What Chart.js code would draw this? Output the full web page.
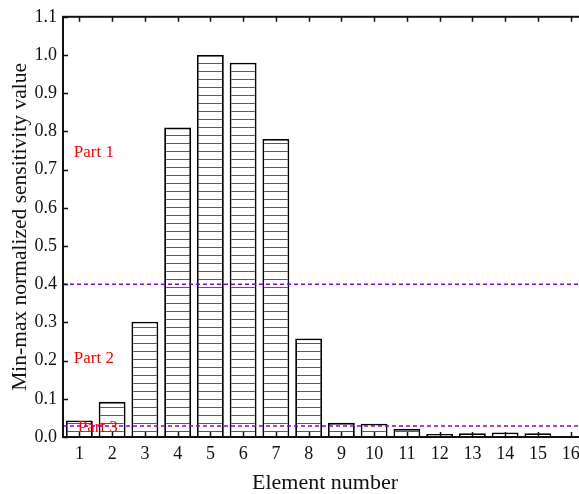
<!DOCTYPE html>
<html lang="en">
<head>
    <meta charset="UTF-8">
    <title>Element sensitivity</title>
    <style>
        html, body { margin: 0; padding: 0; background: #fff; overflow: hidden; }
        #wrap { position: absolute; left: 0; top: 0; width: 600px; height: 494px; }
    </style>
</head>
<body>
    <div id="wrap"><canvas id="chart" width="600" height="494"></canvas></div>
    <script src="https://cdn.jsdelivr.net/npm/chart.js"></script>
    <script>
    // data
    const elements = ['1', '2', '3', '4', '5', '6', '7', '8', '9', '10', '11', '12', '13', '14', '15', '16'];
    const sensitivity = [0.043, 0.092, 0.302, 0.81, 1.0, 0.98, 0.78, 0.258, 0.037, 0.035, 0.021, 0.008, 0.010, 0.012, 0.010, 0];
    const yTicks = [0, 0.1, 0.2, 0.3, 0.4, 0.5, 0.6, 0.7, 0.8, 0.9, 1.0, 1.1];
    const thresholds = [0.4, 0.029];
    const partNames = ['Part 1', 'Part 2', 'Part 3'];
    const partX = [-0.17, -0.17, -0.05];
    const partY = [0.745, 0.205, 0.025];

    const serif = '"Liberation Serif", "Times New Roman", serif';

    // horizontal hatch fill for the bars
    function hatch() {
        const c = document.createElement('canvas');
        c.width = 8; c.height = 8;
        const g = c.getContext('2d');
        g.fillStyle = '#fff';
        g.fillRect(0, 0, 8, 8);
        g.strokeStyle = '#5a5a5a';
        g.lineWidth = 1;
        g.beginPath();
        g.moveTo(0, 7.5); g.lineTo(8, 7.5);
        g.stroke();
        return g.createPattern(c, 'repeat');
    }

    // frame, inward ticks, dashed split lines and part labels
    const decor = {
        id: 'decor',
        afterDatasetsDraw(chart) {
            const ctx = chart.ctx;
            const a = chart.chartArea;
            const x = chart.scales.x, y = chart.scales.y;
            ctx.save();

            ctx.strokeStyle = '#8000ff';
            ctx.lineWidth = 1.5;
            ctx.setLineDash([4, 3]);
            thresholds.forEach(v => {
                const py = y.getPixelForValue(v);
                ctx.beginPath();
                ctx.moveTo(a.left, py); ctx.lineTo(a.right, py);
                ctx.stroke();
            });
            ctx.setLineDash([]);

            ctx.strokeStyle = '#111';
            ctx.lineWidth = 1.5;
            const t = 5;
            ctx.beginPath();
            yTicks.forEach(v => {
                const py = Math.round(y.getPixelForValue(v)) + 0.5;
                ctx.moveTo(a.left, py); ctx.lineTo(a.left + t, py);
                ctx.moveTo(a.right, py); ctx.lineTo(a.right - t, py);
            });
            elements.forEach((e, i) => {
                const px = Math.round(x.getPixelForValue(i)) + 0.5;
                ctx.moveTo(px, a.bottom); ctx.lineTo(px, a.bottom - t);
                ctx.moveTo(px, a.top); ctx.lineTo(px, a.top + t);
            });
            ctx.stroke();

            ctx.lineWidth = 2;
            ctx.strokeRect(a.left, a.top, a.right - a.left, a.bottom - a.top);

            ctx.fillStyle = '#ff0000';
            ctx.font = '17px ' + serif;
            ctx.textBaseline = 'middle';
            ctx.textAlign = 'left';
            partNames.forEach((p, i) => {
                ctx.fillText(p, x.getPixelForValue(partX[i]), y.getPixelForValue(partY[i]));
            });
            ctx.restore();
        }
    };

    new Chart(document.getElementById('chart'), {
        type: 'bar',
        data: {
            labels: elements,
            datasets: [{
                data: sensitivity,
                backgroundColor: hatch(),
                borderColor: '#000',
                borderWidth: 1.8,
                borderSkipped: 'bottom',
                categoryPercentage: 1,
                barPercentage: 0.82
            }]
        },
        options: {
            responsive: false,
            animation: false,
            layout: { padding: { top: 16, right: 13, left: 0, bottom: 0 } },
            plugins: { legend: { display: false }, tooltip: { enabled: false } },
            scales: {
                x: {
                    grid: { display: false, drawTicks: false },
                    border: { display: false },
                    ticks: { color: '#111', font: { family: serif, size: 18 }, padding: 6, maxRotation: 0, autoSkip: false },
                    title: { display: true, text: 'Element number', color: '#111', font: { family: serif, size: 22, lineHeight: 1 }, padding: { top: 0, bottom: 0 } },
                    afterFit(s) { s.height = 57; }
                },
                y: {
                    min: 0,
                    max: 1.1,
                    afterBuildTicks(s) { s.ticks = yTicks.map(v => ({ value: v })); },
                    grid: { display: false, drawTicks: false },
                    border: { display: false },
                    ticks: { color: '#111', font: { family: serif, size: 18 }, padding: 6, callback: v => v.toFixed(1) },
                    title: { display: true, text: 'Min-max normalized sensitivity value', color: '#111', font: { family: serif, size: 21.5, lineHeight: 1 }, padding: { top: 10, bottom: 0 } },
                    afterFit(s) { s.width = 63; }
                }
            }
        },
        plugins: [decor]
    });
    </script>
</body>
</html>
